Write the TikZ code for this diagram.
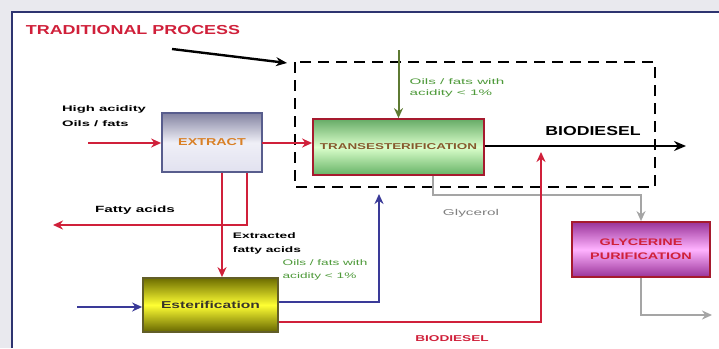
\documentclass[tikz,border=0pt]{standalone}
\usepackage{fontspec}
\setmainfont{Liberation Sans}
\usetikzlibrary{arrows.meta,calc}
\definecolor{cred}{HTML}{D0203A}
\definecolor{cgreen}{HTML}{5E7A32}
\definecolor{cblue}{HTML}{3A3A98}
\definecolor{cgray}{HTML}{A5A5A5}
\definecolor{cnavy}{HTML}{2E3470}
\definecolor{cbg}{HTML}{E9E9EE}
\definecolor{txtgreen}{HTML}{4E9A3A}
\newcommand{\myxs}[2]{\scalebox{#1}[1]{#2}}
\newcommand{\mytab}[1]{\begin{tabular}{@{}l@{}}#1\end{tabular}}
\newcommand{\mytabc}[1]{\begin{tabular}{@{}c@{}}#1\end{tabular}}
\tikzset{
  x=1pt,y=-1pt,
  proc/.style={draw,rectangle,line width=1.8pt,inner sep=0pt},
  redarrow/.style={cred,line width=2.6pt,-{Stealth[length=10pt,width=9pt]}},
  bluearrow/.style={cblue,line width=2pt,-{Stealth[length=10pt,width=9pt]}},
  grayarrow/.style={cgray,line width=2pt,-{Stealth[length=10pt,width=9pt]}},
  lbl/.style={align=left,inner sep=0pt},
}
\begin{document}
\begin{tikzpicture}
\useasboundingbox (0,0) rectangle (719,348);
\fill[cbg] (0,0) rectangle (719,348);
\fill[white] (12,12) rectangle (719,348);
\draw[cnavy,line width=1.6pt] (12,348) -- (12,12) -- (719,12);

% dashed traditional box
\draw[line width=2.8pt,dash pattern=on 11pt off 7pt] (295,62) rectangle (655,187);

% process boxes
\node[proc,draw=cnavy!80,top color=cblue!40!gray!80,bottom color=cblue!15!white,middle color=cblue!8!white,
  minimum width=100pt,minimum height=59pt,text=brown!60!orange,font=\fontsize{10}{12}\selectfont\bfseries] (extract) at (212,142.5) {\myxs{1.43}{EXTRACT}};
\node[proc,draw=cred!80!black,top color=green!45!black!60,bottom color=green!50!black!60,middle color=yellow!30!green!20,
  minimum width=171pt,minimum height=56pt,text=brown!70!black,font=\fontsize{8.5}{10}\selectfont\bfseries] (trans) at (398.5,147) {\myxs{1.58}{TRANSESTERIFICATION}};
\node[proc,draw=olive!60!black,top color=olive!85!black,bottom color=olive!80!black,middle color=yellow!80!white,
  minimum width=135pt,minimum height=54pt,text=black!80!olive,font=\fontsize{10}{12}\selectfont\bfseries] (ester) at (210.5,305) {\myxs{1.56}{Esterification}};
\node[proc,draw=cred!80!black,top color=magenta!50!black!80,bottom color=magenta!50!black!80,middle color=magenta!30!white,
  minimum width=138pt,minimum height=55pt,text=cred,font=\fontsize{9.5}{14}\selectfont\bfseries] (glyc) at (641,249.5) {\myxs{1.52}{\mytabc{GLYCERINE\\PURIFICATION}}};

% labels
\node[text=cred,font=\fontsize{13}{15}\selectfont\bfseries,inner sep=0pt] (trad) at (133,30) {\myxs{1.38}{TRADITIONAL PROCESS}};
\coordinate (tradA) at (172,49);
\coordinate (tradB) at (287,63);
\draw[line width=2.4pt,-{Stealth[length=11pt,width=9pt]}] (tradA) -- (tradB);

\node[lbl,font=\fontsize{8}{15}\selectfont\bfseries] (high) at (104,116) {\myxs{1.85}{\mytab{High acidity\\Oils / fats}}};
\node[lbl,text=txtgreen,font=\fontsize{8}{11}\selectfont] (ok1) at (457,88) {\myxs{1.9}{\mytab{Oils / fats with\\acidity < 1\%}}};
\node[font=\fontsize{13}{15}\selectfont\bfseries,inner sep=0pt] (bio) at (593,131) {\myxs{1.36}{BIODIESEL}};
\node[lbl,text=gray,font=\fontsize{8.5}{10}\selectfont] (glyl) at (471,213) {\myxs{1.8}{Glycerol}};
\node[lbl,font=\fontsize{9}{10}\selectfont\bfseries] (fatl) at (135,210) {\myxs{1.7}{Fatty acids}};
\node[lbl,font=\fontsize{8}{14}\selectfont\bfseries] (extl) at (267,243) {\myxs{1.72}{\mytab{Extracted\\fatty acids}}};
\node[lbl,text=txtgreen,font=\fontsize{8}{13}\selectfont] (ok2) at (325,269) {\myxs{1.7}{\mytab{Oils / fats with\\acidity < 1\%}}};
\node[lbl,text=cred,font=\fontsize{8.5}{10}\selectfont\bfseries] (bio2) at (452,339) {\myxs{1.6}{BIODIESEL}};

% connectors
\coordinate (in1) at (88,143);
\draw[redarrow] (in1) -- (in1 -| extract.west);
\coordinate (ex1) at (262,143);
\draw[redarrow] (ex1) -- (ex1 -| trans.west);

\coordinate (g0) at (398.5,50);
\draw[cgreen,line width=2pt,-{Stealth[length=10pt,width=9pt]}] (g0) -- (trans.north);

\coordinate (bd) at (686,146);
\draw[line width=2.8pt,-{Stealth[length=12pt,width=10pt]}] (bd -| trans.east) -- (bd);

\coordinate (gx) at (433,195);
\draw[grayarrow] (trans.south -| gx) -- (gx) -| (glyc.north);
\coordinate (gout) at (712,315);
\draw[grayarrow] (glyc.south) |- (gout);

\coordinate (e1) at (222,0);
\draw[redarrow] (extract.south -| e1) -- (ester.north -| e1);
\coordinate (e2) at (247,225);
\coordinate (fa) at (53,225);
\draw[redarrow] (extract.south -| e2) -- (e2) -- (fa);

\coordinate (bin) at (77,307);
\draw[bluearrow] (bin) -- (bin -| ester.west);
\coordinate (bc) at (379,302);
\coordinate (bup) at (379,194);
\draw[bluearrow] (bc -| ester.east) -- (bc) -- (bup);

\coordinate (rc) at (541,322);
\coordinate (rup) at (541,152);
\draw[redarrow] (rc -| ester.east) -- (rc) -- (rup);
\end{tikzpicture}
\end{document}
